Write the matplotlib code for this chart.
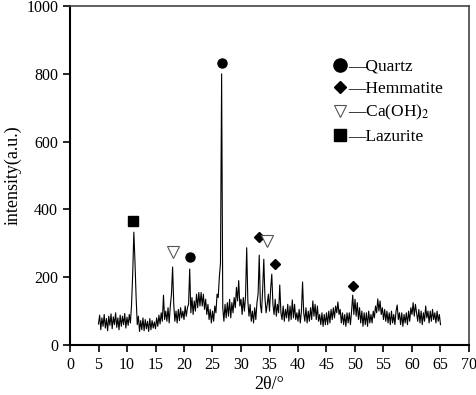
import numpy as np
import matplotlib
matplotlib.use("Agg")
import matplotlib.pyplot as plt
from matplotlib.lines import Line2D

plt.rcParams['font.family'] = ['Liberation Serif', 'DejaVu Serif']
plt.rcParams['mathtext.fontset'] = 'stix'

# 2theta grid start/step (0.2 deg), intensities
two_theta_start = 5.0
two_theta_step = 0.2
intensity = [
    62, 88, 45, 80, 55,       # 5
    90, 50, 78, 42, 85,       # 6
    58, 92, 48, 83, 60,       # 7
    95, 52, 80, 45, 88,       # 8
    55, 85, 60, 93, 50,       # 9
    82, 58, 90, 65, 120,      # 10
    210, 333, 245, 140, 60,   # 11
    85, 40, 72, 45, 80,       # 12
    42, 75, 48, 70, 40,       # 13
    78, 45, 72, 50, 68,       # 14
    48, 80, 55, 88, 62,       # 15
    95, 70, 147, 75, 100,     # 16
    70, 110, 65, 115, 150,    # 17
    230, 120, 70, 100, 65,    # 18
    105, 72, 110, 80, 100,    # 19
    75, 115, 85, 110, 120,    # 20
    224, 95, 140, 90, 130,    # 21
    100, 150, 110, 155, 115,  # 22
    155, 115, 150, 105, 135,  # 23
    90, 120, 75, 105, 65,     # 24
    100, 70, 115, 95, 150,    # 25
    140, 200, 241, 800, 110,  # 26
    70, 120, 80, 125, 85,     # 27
    135, 80, 125, 95, 140,    # 28
    110, 170, 130, 190, 115,  # 29
    135, 90, 140, 100, 145,   # 30
    287, 130, 85, 120, 70,    # 31
    100, 65, 110, 75, 125,    # 32
    150, 265, 120, 95, 165,   # 33
    253, 140, 95, 120, 150,   # 34
    100, 165, 209, 120, 90,   # 35
    135, 85, 120, 95, 177,    # 36
    95, 75, 115, 70, 105,     # 37
    80, 120, 70, 115, 75,     # 38
    133, 80, 120, 75, 95,     # 39
    70, 105, 65, 100, 186,    # 40
    95, 70, 110, 65, 100,     # 41
    70, 110, 75, 130, 85,     # 42
    120, 75, 115, 70, 90,     # 43
    60, 95, 55, 90, 60,       # 44
    95, 60, 100, 65, 105,     # 45
    75, 110, 80, 115, 95,     # 46
    127, 90, 105, 65, 95,     # 47
    60, 90, 55, 95, 65,       # 48
    95, 60, 100, 147, 90,     # 49
    135, 85, 125, 75, 110,    # 50
    65, 100, 55, 95, 60,      # 51
    95, 55, 100, 65, 90,      # 52
    65, 100, 80, 115, 95,     # 53
    136, 100, 130, 90, 110,   # 54
    75, 105, 70, 100, 65,     # 55
    95, 60, 100, 65, 90,      # 56
    60, 100, 118, 75, 95,     # 57
    60, 95, 55, 90, 65,       # 58
    95, 60, 100, 70, 110,     # 59
    90, 125, 85, 120, 95,     # 60
    70, 105, 65, 100, 60,     # 61
    95, 70, 115, 80, 100,     # 62
    65, 100, 70, 105, 75,     # 63
    95, 65, 100, 70, 90,      # 64
    60,                       # 65
]
two_theta = two_theta_start + two_theta_step * np.arange(len(intensity))

# phase markers
quartz_x = [21.1, 26.6]
quartz_y = [260, 832]
hematite_x = [33.1, 35.9, 49.6]
hematite_y = [320, 240, 173]
caoh2_x = [18.0, 34.5]
caoh2_y = [275, 307]
lazurite_x = [11.1]
lazurite_y = [366]

legend_labels = ['\u2014Quartz', '\u2014Hemmatite', '\u2014Ca(OH)$_2$', '\u2014Lazurite']

x_ticks = list(range(0, 71, 5))
y_ticks = [0, 200, 400, 600, 800, 1000]

fig = plt.figure(figsize=(4.77, 3.95), dpi=100)
ax = fig.add_axes([70/477, 1 - 345/395, (469-70)/477, (345-6)/395])

ax.plot(two_theta, intensity, color='black', lw=0.8)

ax.plot(quartz_x, quartz_y, 'o', color='black', ms=6.5, ls='none')
ax.plot(hematite_x, hematite_y, 'D', color='black', ms=5.5, ls='none')
ax.plot(caoh2_x, caoh2_y, 'v', mfc='white', mec='#555555', mew=0.8, ms=8, ls='none')
ax.plot(lazurite_x, lazurite_y, 's', color='black', ms=6.5, ls='none')

ax.set_xlim(0, 70)
ax.set_ylim(0, 1000)
ax.set_xticks(x_ticks)
ax.set_yticks(y_ticks)
ax.tick_params(direction='out', length=5, width=1.2, labelsize=11.5, top=False, right=False)

for s in ['left', 'bottom']:
    ax.spines[s].set_linewidth(1.5)
    ax.spines[s].set_color('black')
for s in ['top', 'right']:
    ax.spines[s].set_linewidth(1.2)
    ax.spines[s].set_color('#444444')

ax.set_xlabel('2\u03b8/\u00b0', fontsize=13, labelpad=2)
ax.set_ylabel('intensity(a.u.)', fontsize=13, labelpad=3)

handles = [
    Line2D([], [], marker='o', color='black', ls='none', ms=9.5),
    Line2D([], [], marker='D', color='black', ls='none', ms=6.5),
    Line2D([], [], marker='v', mfc='white', mec='#555555', mew=0.8, ls='none', ms=9),
    Line2D([], [], marker='s', color='black', ls='none', ms=8.5),
]
ax.legend(handles, legend_labels, loc='upper left', bbox_to_anchor=(0.64, 0.865),
          frameon=False, fontsize=12.5, handlelength=0.9, handletextpad=0.0,
          labelspacing=0.35, borderaxespad=0)

fig.savefig('out.png', dpi=100)
